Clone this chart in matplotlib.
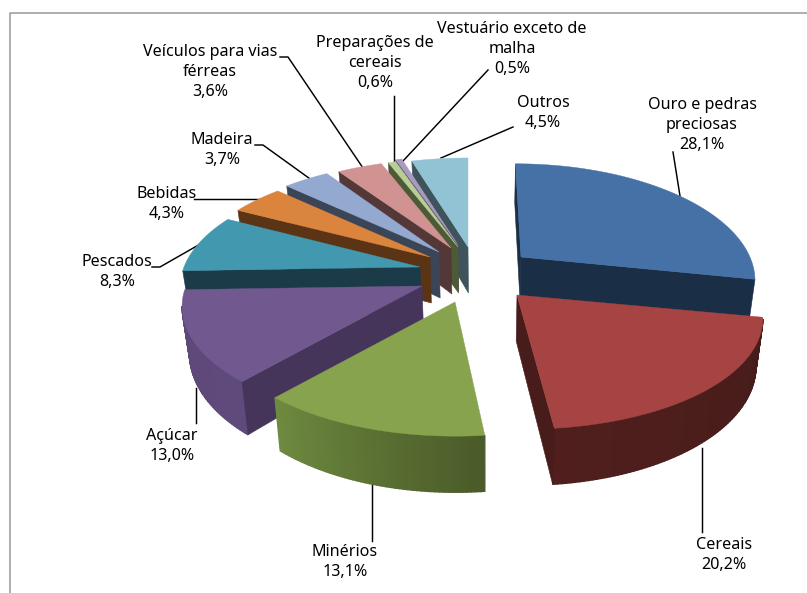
import numpy as np
import matplotlib
matplotlib.use("Agg")
import matplotlib.pyplot as plt
from matplotlib.colors import to_rgb

# ── Dados ─────────────────────────────────────────────────────────────────────
nomes = ["Ouro e pedras\npreciosas", "Cereais", "Minérios", "Açúcar", "Pescados",
         "Bebidas", "Madeira", "Veículos para vias\nférreas",
         "Preparações de\ncereais", "Vestuário exceto de\nmalha", "Outros"]
valores = [28.1, 20.2, 13.1, 13.0, 8.3, 4.3, 3.7, 3.6, 0.6, 0.5, 4.5]

cor_topo = ["#4571A7", "#A54442", "#87A34D", "#71588F", "#4198AF", "#DB843D",
            "#93A9CF", "#D19392", "#B9CD96", "#A99BBD", "#92C3D4"]
cor_corte = ["#1A2E46", "#471C1A", "#4A5A29", "#46355A", "#1A3B47", "#5A3415",
             "#3B4558", "#543838", "#4C5A38", "#4E4460", "#3E535C"]
cor_arco_ini = ["#1A2E46", "#451C1A", "#4A5A29", "#5F4A7C", "#1A3B47", "#5A3415",
                "#3B4558", "#543838", "#4C5A38", "#4E4460", "#3E535C"]
cor_arco_fim = ["#1A2E46", "#501F1D", "#6E8A3F", "#5D4877", "#1A3B47", "#5A3415",
                "#3B4558", "#543838", "#4C5A38", "#4E4460", "#3E535C"]

# ── Layout (pixels) ───────────────────────────────────────────────────────────
vertices = [(521, 257), (517, 295), (455, 302), (422, 286), (420, 267), (430, 257),
            (439, 252), (451, 248), (458, 247), (458, 245), (468, 247)]
esc_x = [0.97, 1.02, 1.0, 1.0, 1.0, 1.0, 1.0, 1.0, 1.0, 1.0, 1.0]
esc_y = [1.0, 1.0, 1.0, 1.0, 1.0, 0.98, 0.98, 0.955, 0.955, 0.955, 0.955]
RX, RY, K = 236, 110, 0.18
VX = 485
ALTURA = 46
ENCOLHE = 0.975

pos_rotulos = [(702, 125), (724, 555), (345, 562), (172, 446), (117, 272), (167, 204),
               (222, 150), (210, 72), (375, 63), (512, 49), (543, 113)]
guias = [[(673, 152), (680, 196)], [(702, 448), (702, 532)], [(372, 484), (372, 541)],
         [(196, 388), (196, 423)], [(152, 267), (160, 267), (202, 243)],
         [(194, 199), (262, 199)], [(255, 145), (263, 145), (313, 181)],
         [(280, 57), (288, 57), (363, 168)], [(394, 96), (394, 162)],
         [(488, 70), (403, 161)], [(513, 127), (441, 158)]]


def ponto(i, teta):
    vx, vy = vertices[i]
    u, v = np.sin(teta), np.cos(teta)
    s = 1 / (1 + K * v)
    x = vx + RX * esc_x[i] * u * s + max(vx - VX, 0) * (s - 1)
    y = vy - RY * esc_y[i] * v * s
    return x, y, s


def base(x, y, s):
    return VX + (x - VX) * ENCOLHE, y + ALTURA * s


def mistura(c0, c1, t):
    return tuple((1 - t) * a + t * b for a, b in zip(to_rgb(c0), to_rgb(c1)))


fig = plt.figure(figsize=(8.07, 5.93), dpi=100)
ax = fig.add_axes([0, 0, 1, 1])
ax.set_xlim(0, 807)
ax.set_ylim(593, 0)
ax.axis("off")

# moldura
ax.plot([10, 10, 807], [593, 13, 13], color="#999999", lw=1.1, zorder=1)

for g in guias:
    ax.plot(*zip(*g), color="black", lw=1.05, zorder=2)

# ── Fatias: de trás para a frente ─────────────────────────────────────────────
total = sum(valores)
fim = np.cumsum(valores) / total * 2 * np.pi
ini = np.r_[0, fim[:-1]]
ordem = [10, 9, 8, 7, 6, 5, 4, 3, 2, 0, 1]

z = 3
for i in ordem:
    vx, vy = vertices[i]
    tetas = np.linspace(ini[i], fim[i], max(int(valores[i] * 4), 4))
    contorno = [ponto(i, t) for t in tetas]
    centro = (vx, vy, 1.0)

    def parede(p0, p1, cor, lw):
        if p1[0] >= p0[0]:
            return
        b0, b1 = base(*p0), base(*p1)
        ax.fill([p0[0], p1[0], b1[0], b0[0]], [p0[1], p1[1], b1[1], b0[1]],
                facecolor=cor, edgecolor=cor, lw=lw, zorder=z)

    # arco primeiro, com linha mais grossa para não aparecerem emendas
    for j in range(len(contorno) - 1):
        t = j / max(len(contorno) - 2, 1)
        parede(contorno[j], contorno[j + 1], mistura(cor_arco_ini[i], cor_arco_fim[i], t), 1.0)
    parede(centro, contorno[0], cor_corte[i], 0.4)
    parede(contorno[-1], centro, cor_corte[i], 0.4)

    xs = [vx] + [p[0] for p in contorno]
    ys = [vy] + [p[1] for p in contorno]
    ax.fill(xs, ys, facecolor=cor_topo[i], edgecolor=cor_topo[i], lw=0.3, zorder=z + 0.5)
    z += 1

# ── Rótulos ───────────────────────────────────────────────────────────────────
for nome, val, (x, y) in zip(nomes, valores, pos_rotulos):
    txt = f"{nome}\n{val:.1f}%".replace(".", ",")
    ax.text(x, y, txt, ha="center", va="center", ma="center", fontsize=11.6,
            family="Noto Sans", linespacing=1.36, color="black", zorder=30)

fig.savefig("out.png", dpi=100)
